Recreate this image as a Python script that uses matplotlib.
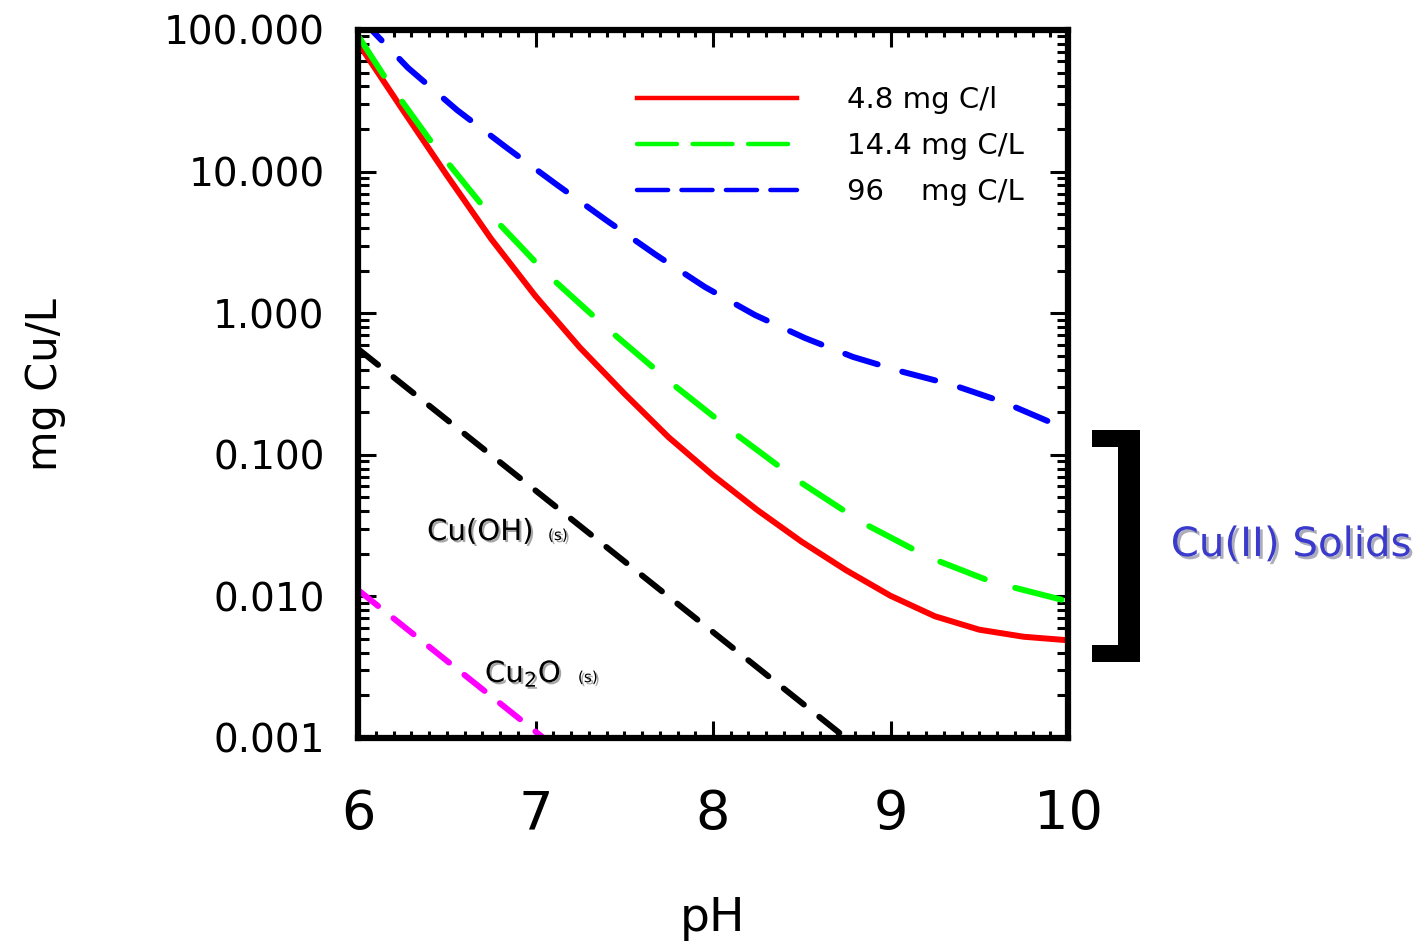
import matplotlib
matplotlib.use("Agg")
import matplotlib.pyplot as plt
from matplotlib.lines import Line2D
from matplotlib.patches import Rectangle
from matplotlib.ticker import FixedLocator, NullFormatter
import matplotlib.patheffects as pe

# ---------------- data ----------------
ph_4_8 = [6.0, 6.25, 6.5, 6.75, 7.0, 7.25, 7.5, 7.75, 8.0,
          8.25, 8.5, 8.75, 9.0, 9.25, 9.5, 9.75, 10.0]
cu_4_8 = [81.3, 27.5, 9.44, 3.35, 1.32, 0.572, 0.271, 0.133, 0.0716,
          0.0407, 0.0243, 0.0153, 0.0101, 0.00724, 0.00582, 0.00519, 0.00490]

ph_14_4 = [6.0, 6.169, 6.434, 6.721, 7.059, 7.397, 7.786, 8.135, 8.49,
           8.845, 9.211, 9.572, 10.0]
cu_14_4 = [91.2, 42.9, 14.9, 5.36, 1.92, 0.794, 0.306, 0.138, 0.0643,
           0.0330, 0.0190, 0.01265, 0.00923]

ph_96 = [6.0, 6.282, 6.558, 6.839, 7.115, 7.397, 7.679, 7.955, 8.237,
         8.518, 8.789, 9.07, 9.352, 9.634, 9.91, 10.0]
cu_96 = [126.0, 54.0, 27.2, 14.7, 8.17, 4.55, 2.58, 1.53, 0.970,
         0.668, 0.491, 0.385, 0.311, 0.236, 0.168, 0.148]

ph_cuoh2 = [6.0, 7.0, 8.0, 9.0]
cu_cuoh2 = [0.56, 0.056, 0.0056, 0.00056]
ph_cu2o = [6.0, 7.0, 8.0]
cu_cu2o = [0.0111, 0.00111, 0.000111]

legend_labels = ["4.8 mg C/l", "14.4 mg C/L", "96    mg C/L"]
xtick_vals = [6, 7, 8, 9, 10]
xtick_labels = ["6", "7", "8", "9", "10"]
ytick_vals = [100, 10, 1, 0.1, 0.01, 0.001]
ytick_labels = ["100.000", "10.000", "1.000", "0.100", "0.010", "0.001"]

# ---------------- figure ----------------
plt.rcParams['font.family'] = ['DejaVu Sans']
W, H = 1428, 947
fig = plt.figure(figsize=(W / 100, H / 100), dpi=100)
ax = fig.add_axes([358 / W, 1 - 738 / H, 710 / W, 708 / H])

lw = 4.3
ax.plot(ph_4_8, cu_4_8, color='#ff0000', lw=lw, solid_capstyle='round',
        solid_joinstyle='round')
ax.plot(ph_14_4, cu_14_4, color='#00ff00', lw=lw, dashes=(8, 5.3), dash_capstyle='round')
ax.plot(ph_96, cu_96, color='#0000ff', lw=lw, dashes=(5.7, 4.3), dash_capstyle='round')
ax.plot(ph_cuoh2, cu_cuoh2, color='black', lw=lw, dashes=(4.3, 3.3), dash_capstyle='round')
ax.plot(ph_cu2o, cu_cu2o, color='#ff00ff', lw=lw, dashes=(4.3, 3.3), dash_capstyle='round')

ax.set_xlim(6, 10)
ax.set_yscale('log')
ax.set_ylim(0.001, 100)

for s in ax.spines.values():
    s.set_linewidth(4.5)

ax.set_xticks(xtick_vals, labels=xtick_labels)
ax.xaxis.set_minor_locator(FixedLocator([6 + 0.1 * i for i in range(41)]))
ax.set_yticks(ytick_vals, labels=ytick_labels)
ax.yaxis.set_minor_locator(FixedLocator([m * 10.0 ** e for e in range(-3, 2) for m in range(2, 10)]))
ax.yaxis.set_minor_formatter(NullFormatter())

ax.tick_params(which='both', direction='in', top=True, right=True, width=2.2)
ax.tick_params(axis='x', which='major', length=12, labelsize=39, pad=36)
ax.tick_params(axis='x', which='minor', length=5)
ax.tick_params(axis='y', which='major', length=13, labelsize=28, pad=24)
ax.tick_params(axis='y', which='minor', length=8)

ax.set_xlabel('pH', fontsize=34, labelpad=40)
fig.text(45 / W, 1 - 385 / H, 'mg Cu/L', rotation=90, fontsize=30,
         ha='center', va='center')

# legend
handles = [
    Line2D([], [], color='#ff0000', lw=3.2),
    Line2D([], [], color='#00ff00', lw=3.2, dashes=(9, 3.5), dash_capstyle='round'),
    Line2D([], [], color='#0000ff', lw=3.2, dashes=(7, 3), dash_capstyle='round'),
]
leg = ax.legend(handles, legend_labels, loc='upper left', bbox_to_anchor=(0.393, 0.921),
                frameon=False, fontsize=21, handlelength=5.5, handletextpad=1.7,
                labelspacing=0.62, borderpad=0, borderaxespad=0)

# annotations
shadow = [pe.SimplePatchShadow(offset=(1.5, -1.5), alpha=0.35), pe.Normal()]
ax.text(6.389, 0.025, 'Cu(OH)', fontsize=21, ha='left', va='baseline', path_effects=shadow)
ax.text(7.07, 0.025, '(s)', fontsize=11, ha='left', va='baseline', path_effects=shadow)
ax.text(6.715, 0.00248, 'Cu$_2$O', fontsize=21, ha='left', va='baseline', path_effects=shadow)
ax.text(7.239, 0.00248, '(s)', fontsize=11, ha='left', va='baseline', path_effects=shadow)

fig.text(1291 / W, 1 - 545 / H, 'Cu(II) Solids', fontsize=29, color='#3a3acc',
         ha='center', va='center',
         path_effects=[pe.SimplePatchShadow(offset=(2, -2), alpha=0.35), pe.Normal()])

# bracket
for (x0, y0, w, h) in [(1092, 430, 48, 17), (1118, 430, 22, 232), (1092, 645, 48, 17)]:
    fig.add_artist(Rectangle((x0 / W, 1 - (y0 + h) / H), w / W, h / H,
                             transform=fig.transFigure, color='black', lw=0))

fig.savefig('out.png', dpi=100)
